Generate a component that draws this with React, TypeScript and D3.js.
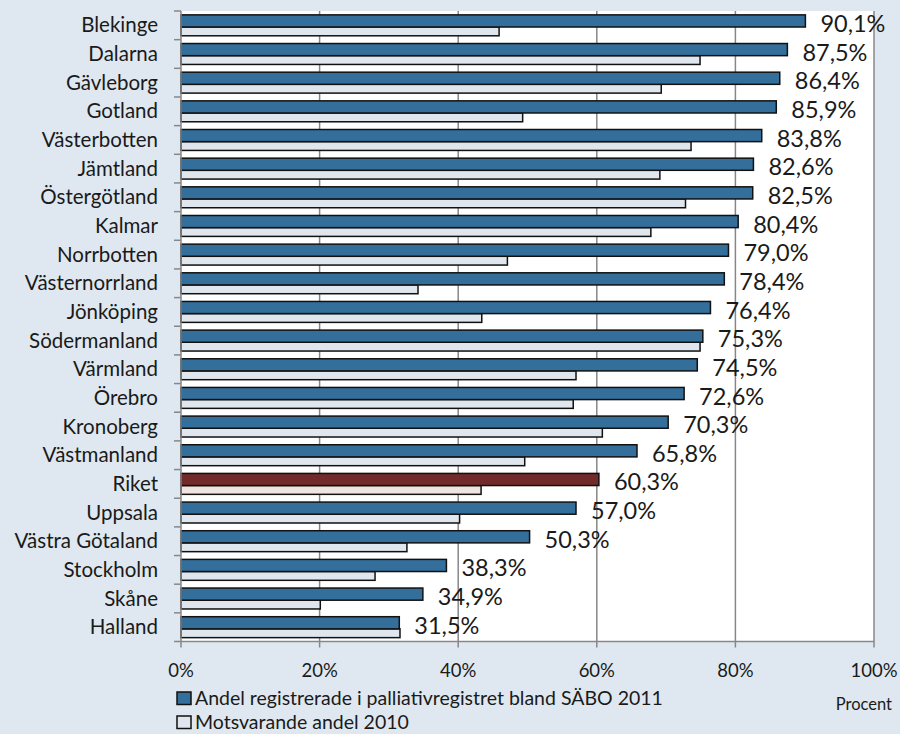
// Andel registrerade i palliativregistret — liggande stapeldiagram med D3-skalor
import React, { useEffect } from 'react';
import * as d3 from 'd3';

const categories = [
  'Blekinge', 'Dalarna', 'Gävleborg', 'Gotland', 'Västerbotten', 'Jämtland',
  'Östergötland', 'Kalmar', 'Norrbotten', 'Västernorrland', 'Jönköping',
  'Södermanland', 'Värmland', 'Örebro', 'Kronoberg', 'Västmanland', 'Riket',
  'Uppsala', 'Västra Götaland', 'Stockholm', 'Skåne', 'Halland',
];

const values2011 = [
  90.1, 87.5, 86.4, 85.9, 83.8, 82.6, 82.5, 80.4, 79.0, 78.4, 76.4,
  75.3, 74.5, 72.6, 70.3, 65.8, 60.3, 57.0, 50.3, 38.3, 34.9, 31.5,
];

const values2010 = [
  45.9, 74.9, 69.3, 49.3, 73.6, 69.1, 72.8, 67.8, 47.1, 34.2, 43.4,
  74.9, 57.0, 56.6, 60.8, 49.6, 43.3, 40.2, 32.6, 28.0, 20.1, 31.6,
];

const xTicks = [0, 20, 40, 60, 80, 100];

const legendLabels = [
  'Andel registrerade i palliativregistret bland SÄBO 2011',
  'Motsvarande andel 2010',
];

const highlight = 'Riket';

const W = 900;
const H = 734;
const margin = { top: 11, right: 26, bottom: 92.5, left: 181 };
const font = 'Lato, "Open Sans", sans-serif';

const BLUE = '#346f9b';
const LIGHT = '#dfe6ee';
const RED = '#722a2b';
const PINK = '#f1e4e0';
const GRID = '#878787';
const BG = '#dfe8f0';
const TEXT = '#1a1a1a';

const fmt = (v: number) => d3.format('.1f')(v).replace('.', ',') + '%';

const App: React.FC = () => {
  useEffect(() => {
    document.body.style.margin = '0';
  }, []);

  const innerW = W - margin.left - margin.right;
  const innerH = H - margin.top - margin.bottom;

  const x = d3.scaleLinear().domain([0, 100]).range([0, innerW]);
  const y = d3.scaleBand<string>()
    .domain(categories)
    .range([0, innerH])
    .paddingInner(0.27)
    .paddingOuter(0.135);

  const bw = y.bandwidth();
  const topShare = 0.58;
  const step = y.step();

  // gränser mellan kategorier för små tickmarkeringar
  const boundaries = d3.range(categories.length + 1).map((i) => i * step);

  return (
    <svg width={W} height={H} style={{ display: 'block', background: BG }}>
      <rect x={0} y={0} width={W} height={H} fill={BG} />
      <g transform={`translate(${margin.left},${margin.top})`}>
        <rect x={0} y={0} width={innerW} height={innerH} fill="#ffffff" />

        {/* stödlinjer */}
        {xTicks.filter((t) => t > 0).map((t) => (
          <line key={t} x1={x(t)} x2={x(t)} y1={0} y2={innerH + 6} stroke={GRID} strokeWidth={1.5} />
        ))}

        {/* staplar */}
        {categories.map((c, i) => {
          const y0 = y(c) as number;
          const isHl = c === highlight;
          return (
            <g key={c}>
              <rect
                x={0}
                y={y0 + bw * topShare}
                width={x(values2010[i])}
                height={bw * (1 - topShare)}
                fill={isHl ? PINK : LIGHT}
                stroke="#111"
                strokeWidth={1.5}
              />
              <rect
                x={0}
                y={y0}
                width={x(values2011[i])}
                height={bw * topShare}
                fill={isHl ? RED : BLUE}
                stroke="#111"
                strokeWidth={1.5}
              />
              <text
                x={x(values2011[i]) + 15}
                y={y0 + (bw * topShare) / 2 + 2}
                dominantBaseline="central"
                fontFamily={font}
                fontSize={23.5}
                fill={TEXT}
              >
                {fmt(values2011[i])}
              </text>
              <text
                x={-23}
                y={y0 + bw / 2 - 1}
                dominantBaseline="central"
                textAnchor="end"
                fontFamily={font}
                fontSize={20.5}
                fill={TEXT}
              >
                {c}
              </text>
            </g>
          );
        })}

        {/* axlar */}
        <line x1={0} x2={0} y1={0} y2={innerH} stroke={GRID} strokeWidth={1.5} />
        {boundaries.map((b, i) => (
          <line key={i} x1={-7} x2={0} y1={b} y2={b} stroke={GRID} strokeWidth={1.5} />
        ))}
        <line x1={0} x2={innerW} y1={innerH} y2={innerH} stroke={GRID} strokeWidth={1.5} />
        <line x1={0} x2={0} y1={innerH} y2={innerH + 6} stroke={GRID} strokeWidth={1.5} />
        {xTicks.map((t) => (
          <text
            key={t}
            x={x(t)}
            y={innerH + 35}
            textAnchor="middle"
            fontFamily={font}
            fontSize={18.5}
            fill={TEXT}
          >
            {t}%
          </text>
        ))}
      </g>

      {/* förklaring */}
      {legendLabels.map((l, i) => (
        <g key={l} transform={`translate(177,${692 + i * 24})`}>
          <rect x={0} y={0} width={14} height={12.5} fill={i === 0 ? BLUE : LIGHT} stroke="#111" strokeWidth={1.5} />
          <text x={18} y={12.5} fontFamily={font} fontSize={19.5} fill={TEXT}>{l}</text>
        </g>
      ))}
      <text x={892} y={710} textAnchor="end" fontFamily={font} fontSize={16.5} fill={TEXT}>Procent</text>
    </svg>
  );
};

export default App;
